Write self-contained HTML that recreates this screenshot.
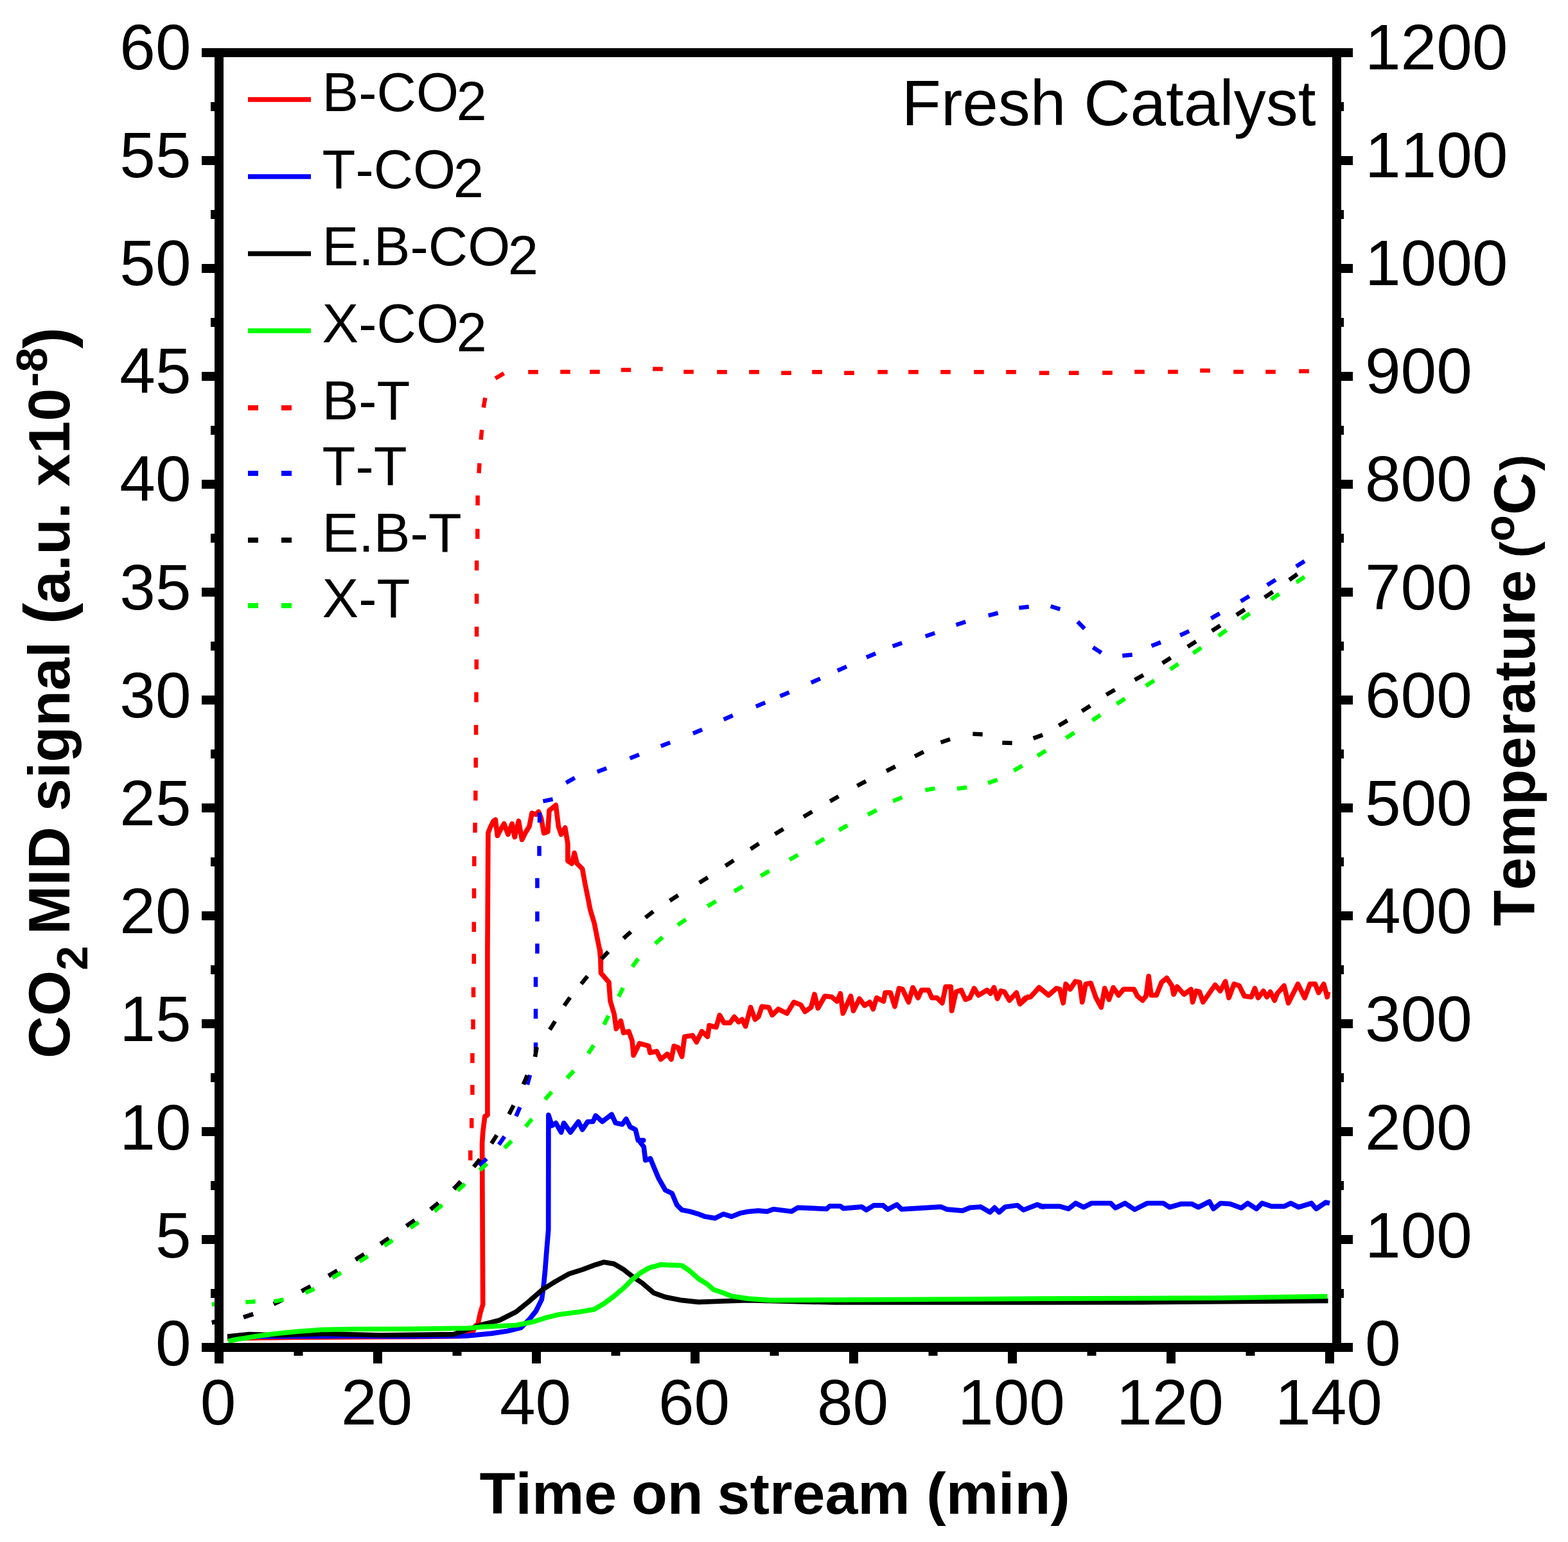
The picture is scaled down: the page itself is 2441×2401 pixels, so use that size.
<!DOCTYPE html>
<html><head><meta charset="utf-8"><title>Fresh Catalyst</title>
<style>text{font-kerning:none}html,body{margin:0;padding:0;background:#fff;width:2441px;height:2401px;overflow:hidden}svg{display:block}</style>
</head><body>
<svg width="2441" height="2401" viewBox="0 0 2441 2401">
<rect width="100%" height="100%" fill="#fff"/>
<g fill="none" stroke-width="7.7" stroke-linejoin="round" stroke-linecap="butt">
<path stroke="#ff0000" d="M354.0 2084.0L392.7 2083.5L458.6 2082.5L550.0 2082.0L650.0 2081.5L720.0 2080.5L736.0 2074.0L740.5 2064.0L743.9 2062.0L747.8 2044.0L751.7 2031.0L750.6 1780.0L751.7 1763.1L754.8 1738.3L758.9 1736.2L758.9 1480.0L759.9 1297.1L763.0 1288.8L768.2 1278.5L771.3 1276.4L774.4 1301.2L778.5 1293.0L784.7 1282.6L790.9 1299.2L797.1 1282.6L801.2 1303.3L807.4 1278.5L812.6 1307.4L817.8 1297.1L824.0 1286.8L828.1 1266.1L834.3 1268.2L838.4 1264.0L842.6 1274.4L846.7 1297.1L852.9 1295.0L855.0 1262.0L865.3 1253.7L869.4 1286.8L873.6 1299.2L879.8 1288.8L883.9 1313.6L883.9 1340.5L890.1 1344.6L894.2 1328.1L898.3 1344.6L906.6 1352.9L910.7 1375.6L914.9 1396.3L919.0 1416.9L925.2 1437.6L929.3 1458.3L933.5 1478.9L935.5 1500.0L934.5 1480.0L935.5 1515.1L947.9 1529.6L950.0 1558.5L956.2 1579.2L959.3 1601.9L966.5 1589.5L970.7 1608.1L978.9 1606.0L984.1 1620.5L986.2 1643.2L995.5 1624.6L1009.9 1628.8L1012.0 1639.1L1022.3 1637.0L1028.5 1649.4L1038.8 1641.2L1045.0 1649.4L1049.2 1628.8L1055.4 1630.8L1061.6 1645.3L1065.7 1614.3L1078.1 1612.2L1084.3 1622.6L1092.6 1606.0L1101.5 1614.2L1104.2 1596.7L1114.9 1599.4L1120.3 1580.6L1127.0 1592.7L1136.4 1592.7L1143.1 1583.3L1149.8 1591.3L1155.2 1587.3L1160.6 1598.0L1168.6 1568.5L1175.4 1587.3L1180.7 1583.3L1186.1 1567.2L1196.8 1568.5L1202.2 1580.6L1211.6 1571.2L1225.0 1577.9L1235.8 1560.4L1246.5 1564.5L1253.2 1575.2L1262.6 1568.5L1268.0 1548.3L1273.4 1569.8L1284.1 1551.0L1294.9 1552.4L1302.9 1559.1L1308.3 1547.0L1312.3 1577.9L1324.4 1551.0L1328.5 1573.9L1337.9 1555.1L1345.9 1565.8L1354.0 1560.4L1359.3 1571.2L1364.7 1553.7L1375.5 1559.1L1378.1 1545.7L1386.2 1545.7L1392.9 1567.2L1399.6 1538.9L1405.0 1540.3L1414.4 1560.4L1421.1 1537.6L1429.2 1553.7L1434.6 1541.6L1445.3 1541.6L1450.7 1553.7L1458.7 1553.7L1466.8 1561.8L1472.2 1536.3L1480.2 1536.3L1481.6 1573.9L1488.3 1544.3L1496.3 1541.6L1503.0 1556.4L1509.8 1553.7L1516.5 1538.9L1523.2 1549.7L1536.6 1541.6L1542.0 1547.0L1547.4 1537.6L1552.7 1555.1L1558.1 1543.0L1563.5 1544.3L1571.5 1557.7L1582.3 1545.7L1587.7 1563.1L1600.0 1552.4L1588.1 1563.1L1596.1 1553.7L1604.2 1552.4L1617.6 1537.6L1632.4 1549.7L1644.5 1538.9L1649.8 1540.3L1655.2 1561.8L1659.2 1532.2L1666.0 1540.3L1674.0 1528.2L1680.7 1529.5L1684.8 1560.4L1690.1 1532.2L1698.2 1530.9L1706.2 1553.7L1714.3 1568.5L1719.7 1538.9L1726.4 1556.4L1733.1 1537.6L1741.2 1549.7L1749.2 1540.3L1765.3 1540.3L1770.7 1551.0L1778.8 1557.7L1784.1 1551.0L1788.2 1520.1L1792.2 1549.7L1800.3 1549.7L1808.3 1529.5L1816.4 1522.8L1824.4 1534.9L1827.1 1548.3L1832.5 1536.3L1843.2 1548.3L1854.0 1540.3L1856.7 1560.4L1862.0 1543.0L1867.4 1544.3L1872.8 1560.4L1891.6 1533.6L1899.6 1543.0L1907.7 1528.2L1913.1 1553.7L1921.1 1532.2L1929.2 1534.9L1937.2 1551.0L1948.0 1552.4L1953.4 1538.9L1958.7 1553.7L1966.8 1543.0L1972.2 1552.4L1977.5 1544.3L1984.2 1557.7L1988.3 1547.0L1999.0 1534.9L2005.7 1561.8L2020.5 1532.2L2031.2 1553.7L2039.3 1532.2L2047.4 1532.2L2052.7 1545.7L2060.8 1532.2L2066.2 1552.4L2067.5 1544.3"/>
<path stroke="#0000ff" d="M354.0 2081.0L365.0 2081.5L411.0 2081.0L547.0 2080.5L615.5 2081.0L706.0 2080.5L725.8 2080.2L764.6 2076.4L790.4 2072.5L811.1 2067.3L824.0 2054.4L834.3 2041.5L843.3 2023.4L845.9 2005.4L848.5 1979.5L851.1 1946.0L853.7 1915.0L853.9 1736.2L859.1 1752.7L865.3 1748.6L873.6 1763.1L877.7 1748.6L888.0 1763.1L900.4 1746.5L906.6 1758.9L914.9 1746.5L923.1 1746.5L927.3 1737.2L937.6 1746.5L952.1 1735.2L958.3 1748.6L968.6 1750.7L974.8 1742.4L981.0 1754.8L989.3 1758.9L993.4 1775.5L1001.7 1775.5L994.4 1775.5L1002.2 1785.8L1004.8 1806.5L1012.5 1803.9L1017.7 1816.8L1025.4 1834.9L1035.7 1853.0L1046.1 1858.1L1053.8 1876.2L1061.6 1884.0L1074.5 1886.5L1087.4 1890.4L1097.7 1894.3L1113.2 1896.9L1126.1 1890.4L1139.0 1894.3L1152.0 1889.1L1164.9 1886.5L1177.8 1885.3L1180.0 1885.1L1194.3 1886.3L1203.8 1882.8L1232.3 1886.3L1241.8 1880.4L1286.9 1882.3L1291.7 1878.0L1308.3 1878.0L1313.0 1881.6L1341.6 1879.2L1348.7 1884.0L1360.6 1876.8L1374.8 1876.8L1381.9 1883.2L1396.2 1875.6L1403.3 1882.8L1465.1 1879.2L1474.6 1883.2L1498.4 1885.1L1510.2 1880.4L1526.9 1879.2L1541.1 1887.5L1548.3 1880.4L1555.4 1887.5L1564.9 1879.2L1583.9 1876.8L1593.4 1884.0L1614.8 1875.6L1624.3 1879.2L1620.0 1878.4L1649.8 1878.4L1663.4 1882.2L1674.5 1873.5L1686.9 1879.7L1699.3 1873.5L1729.1 1873.5L1736.5 1880.9L1751.4 1873.5L1766.3 1883.4L1786.1 1873.5L1810.9 1873.5L1820.8 1879.7L1838.2 1874.7L1855.6 1874.7L1865.5 1879.7L1882.8 1871.0L1889.0 1882.2L1900.2 1873.5L1915.1 1874.7L1932.4 1880.9L1942.3 1873.5L1956.0 1882.2L1964.7 1873.5L1979.5 1878.4L1999.4 1878.4L2009.3 1873.5L2021.7 1879.7L2041.5 1873.5L2049.0 1882.2L2063.8 1872.2L2070.0 1873.5"/>
<path stroke="#000000" d="M354.0 2081.0L388.0 2077.7L433.6 2079.0L502.0 2076.6L592.7 2079.0L706.0 2077.7L725.8 2071.2L751.7 2062.2L777.5 2055.7L803.3 2042.8L824.0 2026.0L844.6 2007.9L865.3 1995.0L886.0 1983.4L906.6 1976.9L927.3 1969.2L940.2 1965.3L955.7 1967.9L971.2 1976.9L984.1 1987.3L999.6 1997.6L1017.7 2013.1L1035.7 2019.6L1061.6 2024.7L1087.4 2027.3L1126.1 2026.0L1164.9 2024.7L1300.0 2028.0L1600.0 2028.0L1800.0 2027.5L2067.5 2025.5"/>
<path stroke="#00ff00" d="M355.2 2088.5L365.5 2086.0L388.0 2082.5L400.0 2080.5L430.0 2076.5L460.0 2073.5L500.0 2070.5L550.0 2069.5L638.0 2069.3L729.0 2068.0L751.7 2066.0L803.3 2063.5L829.1 2058.3L849.8 2051.8L870.5 2046.7L901.4 2042.8L924.7 2038.9L940.2 2029.9L955.7 2018.3L971.2 2005.4L984.1 1992.4L997.0 1982.1L1009.9 1974.4L1028.0 1969.2L1061.6 1970.5L1074.5 1979.5L1087.4 1991.1L1100.3 1998.9L1110.6 2007.9L1126.1 2013.1L1139.0 2018.3L1164.9 2022.1L1200.0 2024.7L1300.0 2024.0L1620.0 2022.2L1900.0 2021.0L2066.3 2018.5"/>
</g>
<g fill="none" stroke-width="6.5" stroke-linecap="butt">
<path stroke="#ff0000" d="M329.9 2059.2L345.1 2056.4M379.2 2051.0L394.0 2046.2M426.1 2030.2L440.1 2023.6M469.6 2010.4L483.4 2003.2M511.6 1986.6L525.0 1978.6M553.6 1961.3L566.8 1953.1M592.5 1936.7L605.3 1928.1M632.8 1908.9L645.6 1900.1M670.4 1883.1L682.4 1873.3M707.5 1851.9L716.5 1839.3M732.3 1806.7L732.3 1791.2M734.2 1756.5L734.2 1741.0M735.4 1704.8L735.4 1689.2M735.4 1655.2L735.4 1639.8M736.5 1602.8L736.5 1587.2M737.0 1552.8L737.0 1537.2M737.8 1500.7L737.8 1485.2M737.8 1451.0L737.8 1435.5M738.0 1398.8L738.0 1383.2M738.3 1348.7L738.3 1333.2M739.5 1296.5L739.5 1281.0M740.3 1246.5L740.3 1231.0M740.7 1195.2L740.7 1179.8M741.1 1144.2L741.1 1128.8M741.5 1093.2L741.5 1077.8M741.8 1042.2L741.8 1026.8M742.1 991.2L742.1 975.8M742.1 940.1L742.1 924.6M742.1 888.2L742.1 872.8M743.3 839.0L743.3 823.5M743.6 787.0L743.6 771.5M745.5 736.7L746.5 721.3M748.6 684.7L750.2 669.3M752.7 634.6L755.3 619.4M771.2 589.3L784.4 581.3M837.8 579.2L822.2 579.2M887.8 579.0L872.2 579.0M933.8 579.0L918.2 579.0M982.2 576.0L966.8 576.0M1031.8 574.5L1016.2 574.5M1079.8 579.0L1064.2 579.0M1131.8 579.3L1116.2 579.3M1181.8 579.3L1166.2 579.3M1231.8 580.8L1216.2 580.8M1279.8 579.3L1264.2 579.3M1329.8 580.8L1314.2 580.8M1381.8 579.3L1366.2 579.3M1429.8 579.3L1414.2 579.3M1479.8 579.3L1464.2 579.3M1531.8 579.3L1516.2 579.3M1581.8 579.3L1566.2 579.3M1633.3 580.8L1617.8 580.8M1679.5 580.8L1664.0 580.8M1731.8 580.5L1716.2 580.5M1781.8 579.0L1766.2 579.0M1833.8 579.0L1818.2 579.0M1883.8 577.0L1868.2 577.0M1935.8 579.0L1920.2 579.0M1985.8 579.0L1970.2 579.0M2037.8 578.0L2022.2 578.0"/>
<path stroke="#0000ff" d="M329.9 2059.2L345.1 2056.4M379.2 2051.0L394.0 2046.2M426.1 2030.2L440.1 2023.6M469.6 2010.4L483.4 2003.2M511.6 1986.6L525.0 1978.6M553.6 1961.3L566.8 1953.1M592.5 1936.7L605.3 1928.1M632.8 1908.9L645.6 1900.1M670.4 1883.1L682.4 1873.3M706.3 1850.8L717.7 1840.4M746.4 1815.3L757.4 1804.3M776.6 1782.4L785.4 1769.6M803.3 1738.1L809.5 1723.9M820.9 1688.9L825.1 1673.9M834.0 1638.8L834.0 1623.2M834.0 1586.2L834.0 1570.8M834.0 1536.8L834.0 1521.2M836.4 1484.8L836.4 1469.2M836.4 1434.8L836.4 1419.2M836.4 1382.8L836.4 1367.2M839.5 1332.8L839.5 1317.2M840.0 1280.8L840.0 1265.2M845.4 1247.6L860.6 1244.4M881.2 1218.8L894.8 1211.2M929.7 1201.7L944.3 1196.3M980.6 1180.7L995.0 1174.9M1028.8 1161.8L1043.2 1156.2M1078.9 1142.1L1093.1 1135.9M1126.6 1120.2L1140.8 1114.0M1176.8 1099.9L1191.2 1094.1M1214.4 1084.1L1228.6 1077.9M1262.7 1063.0L1276.9 1056.6M1303.8 1044.3L1318.0 1037.9M1348.9 1023.6L1363.1 1017.4M1389.6 1006.3L1404.2 1001.1M1440.7 990.7L1455.3 985.7M1488.4 973.0L1503.2 968.2M1538.7 958.3L1553.7 954.5M1586.3 946.4L1601.7 944.8M1635.6 944.0L1650.4 948.6M1677.6 968.0L1688.4 979.0M1701.5 1008.0L1714.5 1016.4M1747.3 1021.0L1762.7 1019.4M1792.6 1005.7L1807.0 1000.1M1837.2 989.2L1851.2 982.6M1885.4 962.8L1898.8 955.2M1931.6 936.2L1944.8 928.2M1972.7 910.9L1985.9 902.7M2017.9 882.1L2030.9 873.7"/>
<path stroke="#000000" d="M329.9 2059.2L345.1 2056.4M379.2 2051.0L394.0 2046.2M426.1 2030.2L440.1 2023.6M469.6 2010.4L483.4 2003.2M511.6 1986.6L525.0 1978.6M553.6 1961.3L566.8 1953.1M592.5 1936.7L605.3 1928.1M632.8 1908.9L645.6 1900.1M670.4 1883.1L682.4 1873.3M706.6 1851.1L717.4 1840.1M737.5 1817.1L747.1 1804.9M765.0 1780.5L773.4 1767.5M792.4 1734.9L799.6 1721.1M814.8 1688.5L820.8 1674.3M833.0 1645.6L835.6 1630.4M855.9 1603.3L864.1 1590.1M878.4 1565.8L887.4 1553.2M904.8 1532.0L914.6 1520.0M936.4 1493.1L947.0 1481.9M970.7 1461.2L982.1 1450.8M1004.8 1428.8L1017.0 1419.2M1042.7 1402.4L1055.7 1394.0M1088.7 1374.4L1101.9 1366.2M1129.3 1348.2L1142.3 1339.6M1168.5 1322.0L1181.5 1313.6M1206.4 1298.8L1219.6 1290.8M1251.0 1271.7L1264.4 1263.7M1292.1 1247.6L1305.5 1240.0M1334.4 1223.6L1348.0 1216.4M1380.0 1200.5L1393.8 1193.5M1424.1 1177.6L1437.9 1170.6M1464.5 1156.0L1479.1 1151.0M1514.3 1142.8L1529.7 1143.4M1560.3 1156.5L1575.7 1157.1M1608.6 1149.6L1623.2 1144.4M1648.3 1129.7L1661.7 1121.9M1684.3 1107.3L1697.3 1098.9M1722.2 1081.8L1735.6 1074.0M1766.6 1058.7L1780.0 1051.1M1809.6 1032.4L1822.6 1024.2M1848.9 1007.1L1861.9 998.7M1886.7 982.3L1899.7 973.9M1924.9 957.5L1937.9 949.1M1968.8 930.1L1981.6 921.5M2007.1 903.0L2019.7 894.0"/>
<path stroke="#00ff00" d="M329.8 2031.0L345.2 2030.0M382.3 2027.4L397.7 2026.6M426.4 2026.4L441.6 2023.6M475.4 2012.9L489.6 2006.7M517.6 1989.6L531.0 1981.6M559.6 1964.3L572.8 1956.1M598.5 1939.7L611.3 1931.1M638.8 1911.9L651.6 1903.1M676.4 1886.1L688.4 1876.3M712.3 1853.8L723.7 1843.4M746.8 1822.2L758.2 1811.8M785.3 1787.4L796.5 1776.6M818.3 1754.2L828.1 1742.2M848.6 1711.9L858.8 1700.1M882.8 1678.7L893.2 1667.3M915.7 1640.5L924.3 1627.5M940.2 1595.4L947.4 1581.6M963.0 1551.9L970.0 1538.1M984.4 1505.2L993.6 1492.8M1020.0 1469.4L1031.6 1459.2M1055.0 1440.4L1067.8 1431.6M1101.3 1411.1L1114.7 1403.3M1143.0 1387.8L1156.4 1380.2M1184.3 1363.8L1197.7 1356.2M1229.0 1338.8L1242.4 1331.0M1269.8 1314.0L1283.2 1306.0M1305.9 1292.7L1319.5 1285.1M1351.0 1268.5L1364.8 1261.3M1390.1 1247.4L1404.5 1241.6M1440.4 1230.2L1455.6 1227.6M1489.9 1228.0L1505.3 1226.0M1538.1 1219.3L1552.7 1214.1M1578.2 1199.9L1591.6 1192.1M1615.0 1176.9L1628.2 1168.7M1659.5 1149.2L1672.5 1140.8M1700.4 1121.8L1713.2 1113.2M1738.5 1096.1L1751.5 1087.7M1783.8 1068.0L1796.8 1059.6M1821.7 1042.4L1834.5 1033.6M1857.4 1017.2L1870.2 1008.4M1896.8 990.2L1909.4 981.2M1932.9 963.9L1945.7 955.1M1978.7 933.4L1991.5 924.8M2018.0 906.9L2030.8 898.3"/>
</g>
<g fill="#000">
<rect x="314" y="75" width="1792" height="14"/>
<rect x="314" y="2091" width="1792" height="14"/>
<rect x="334" y="75" width="14" height="2048"/>
<rect x="2074" y="75" width="14" height="2030"/>
<rect x="314" y="2091.0" width="20" height="14"/>
<rect x="2088" y="2091.0" width="18" height="14"/>
<rect x="328" y="2007.0" width="6" height="14"/>
<rect x="2088" y="2007.0" width="4" height="14"/>
<rect x="314" y="1923.0" width="20" height="14"/>
<rect x="2088" y="1923.0" width="18" height="14"/>
<rect x="328" y="1839.0" width="6" height="14"/>
<rect x="2088" y="1839.0" width="4" height="14"/>
<rect x="314" y="1755.0" width="20" height="14"/>
<rect x="2088" y="1755.0" width="18" height="14"/>
<rect x="328" y="1671.0" width="6" height="14"/>
<rect x="2088" y="1671.0" width="4" height="14"/>
<rect x="314" y="1587.0" width="20" height="14"/>
<rect x="2088" y="1587.0" width="18" height="14"/>
<rect x="328" y="1503.0" width="6" height="14"/>
<rect x="2088" y="1503.0" width="4" height="14"/>
<rect x="314" y="1419.0" width="20" height="14"/>
<rect x="2088" y="1419.0" width="18" height="14"/>
<rect x="328" y="1335.0" width="6" height="14"/>
<rect x="2088" y="1335.0" width="4" height="14"/>
<rect x="314" y="1251.0" width="20" height="14"/>
<rect x="2088" y="1251.0" width="18" height="14"/>
<rect x="328" y="1167.0" width="6" height="14"/>
<rect x="2088" y="1167.0" width="4" height="14"/>
<rect x="314" y="1083.0" width="20" height="14"/>
<rect x="2088" y="1083.0" width="18" height="14"/>
<rect x="328" y="999.0" width="6" height="14"/>
<rect x="2088" y="999.0" width="4" height="14"/>
<rect x="314" y="915.0" width="20" height="14"/>
<rect x="2088" y="915.0" width="18" height="14"/>
<rect x="328" y="831.0" width="6" height="14"/>
<rect x="2088" y="831.0" width="4" height="14"/>
<rect x="314" y="747.0" width="20" height="14"/>
<rect x="2088" y="747.0" width="18" height="14"/>
<rect x="328" y="663.0" width="6" height="14"/>
<rect x="2088" y="663.0" width="4" height="14"/>
<rect x="314" y="579.0" width="20" height="14"/>
<rect x="2088" y="579.0" width="18" height="14"/>
<rect x="328" y="495.0" width="6" height="14"/>
<rect x="2088" y="495.0" width="4" height="14"/>
<rect x="314" y="411.0" width="20" height="14"/>
<rect x="2088" y="411.0" width="18" height="14"/>
<rect x="328" y="327.0" width="6" height="14"/>
<rect x="2088" y="327.0" width="4" height="14"/>
<rect x="314" y="243.0" width="20" height="14"/>
<rect x="2088" y="243.0" width="18" height="14"/>
<rect x="328" y="159.0" width="6" height="14"/>
<rect x="2088" y="159.0" width="4" height="14"/>
<rect x="314" y="75.0" width="20" height="14"/>
<rect x="2088" y="75.0" width="18" height="14"/>
<rect x="334.0" y="2105" width="14" height="18"/>
<rect x="457.5" y="2105" width="14" height="6"/>
<rect x="581.0" y="2105" width="14" height="18"/>
<rect x="704.5" y="2105" width="14" height="6"/>
<rect x="828.0" y="2105" width="14" height="18"/>
<rect x="951.5" y="2105" width="14" height="6"/>
<rect x="1075.0" y="2105" width="14" height="18"/>
<rect x="1198.5" y="2105" width="14" height="6"/>
<rect x="1322.0" y="2105" width="14" height="18"/>
<rect x="1445.5" y="2105" width="14" height="6"/>
<rect x="1569.0" y="2105" width="14" height="18"/>
<rect x="1692.5" y="2105" width="14" height="6"/>
<rect x="1816.0" y="2105" width="14" height="18"/>
<rect x="1939.5" y="2105" width="14" height="6"/>
<rect x="2063.0" y="2105" width="14" height="18"/>
</g>
<g font-family="Liberation Sans, Arial, sans-serif" font-size="100" fill="#000">
<text x="297.5" y="2126.0" text-anchor="end">0</text>
<text x="2125" y="2126.0">0</text>
<text x="297.5" y="1957.8" text-anchor="end">5</text>
<text x="2125" y="1957.8">100</text>
<text x="297.5" y="1789.6" text-anchor="end">10</text>
<text x="2125" y="1789.6">200</text>
<text x="297.5" y="1621.4" text-anchor="end">15</text>
<text x="2125" y="1621.4">300</text>
<text x="297.5" y="1453.2" text-anchor="end">20</text>
<text x="2125" y="1453.2">400</text>
<text x="297.5" y="1285.0" text-anchor="end">25</text>
<text x="2125" y="1285.0">500</text>
<text x="297.5" y="1116.8" text-anchor="end">30</text>
<text x="2125" y="1116.8">600</text>
<text x="297.5" y="948.6" text-anchor="end">35</text>
<text x="2125" y="948.6">700</text>
<text x="297.5" y="780.4" text-anchor="end">40</text>
<text x="2125" y="780.4">800</text>
<text x="297.5" y="612.2" text-anchor="end">45</text>
<text x="2125" y="612.2">900</text>
<text x="297.5" y="444.0" text-anchor="end">50</text>
<text x="2125" y="444.0">1000</text>
<text x="297.5" y="275.8" text-anchor="end">55</text>
<text x="2125" y="275.8">1100</text>
<text x="297.5" y="107.6" text-anchor="end">60</text>
<text x="2125" y="107.6">1200</text>
<text x="339.5" y="2218" text-anchor="middle">0</text>
<text x="586.5" y="2218" text-anchor="middle">20</text>
<text x="833.5" y="2218" text-anchor="middle">40</text>
<text x="1080.5" y="2218" text-anchor="middle">60</text>
<text x="1327.5" y="2218" text-anchor="middle">80</text>
<text x="1574.5" y="2218" text-anchor="middle">100</text>
<text x="1821.5" y="2218" text-anchor="middle">120</text>
<text x="2068.5" y="2218" text-anchor="middle">140</text>
<text x="2048.5" y="195" text-anchor="end">Fresh Catalyst</text>
</g>
<g font-family="Liberation Sans, Arial, sans-serif" font-size="85" fill="#000">
<text x="501.5" y="173">B-CO<tspan dx="-3.5" dy="14">2</tspan></text>
<rect x="386" y="151.25" width="98" height="7.5" fill="#ff0000"/>
<text x="501.5" y="293">T-CO<tspan dx="-3.5" dy="14">2</tspan></text>
<rect x="386" y="271.25" width="98" height="7.5" fill="#0000ff"/>
<text x="501.5" y="413">E.B-CO<tspan dx="-3.5" dy="14">2</tspan></text>
<rect x="386" y="391.25" width="98" height="7.5" fill="#000000"/>
<text x="501.5" y="533">X-CO<tspan dx="-3.5" dy="14">2</tspan></text>
<rect x="386" y="511.25" width="98" height="7.5" fill="#00ff00"/>
<text x="501.5" y="653">B-T</text>
<rect x="386" y="631" width="16" height="8" fill="#ff0000"/>
<rect x="438" y="631" width="16" height="8" fill="#ff0000"/>
<text x="501.5" y="755">T-T</text>
<rect x="386" y="733" width="16" height="8" fill="#0000ff"/>
<rect x="438" y="733" width="16" height="8" fill="#0000ff"/>
<text x="501.5" y="859">E.B-T</text>
<rect x="386" y="837" width="16" height="8" fill="#000000"/>
<rect x="438" y="837" width="16" height="8" fill="#000000"/>
<text x="501.5" y="961">X-T</text>
<rect x="386" y="939" width="16" height="8" fill="#00ff00"/>
<rect x="438" y="939" width="16" height="8" fill="#00ff00"/>
</g>
<g font-family="Liberation Sans, Arial, sans-serif" font-weight="bold" fill="#000">
<text x="746.6" y="2357.3" font-size="91.5">Time</text>
<text x="982.9" y="2357.3" font-size="91.5">on</text>
<text x="1116.6" y="2357.3" font-size="91.5">stream</text>
<text x="1442.2" y="2357.3" font-size="91.5">(min)</text>
<text transform="translate(107.8 1648.0) rotate(-90)" font-size="91.5">CO</text>
<text transform="translate(136 1510.9) rotate(-90)" font-size="69">2</text>
<text transform="translate(107.8 1455.0) rotate(-90)" font-size="91.5">MID</text>
<text transform="translate(107.8 1263.2) rotate(-90)" font-size="91.5">signal</text>
<text transform="translate(107.8 971.9) rotate(-90)" font-size="100">(</text>
<text transform="translate(107.8 940.0) rotate(-90)" font-size="91.5">a.u.</text>
<text transform="translate(107.8 757.5) rotate(-90)" font-size="91.5">x10</text>
<text transform="translate(72.5 602.5) rotate(-90)" font-size="69">-8</text>
<text transform="translate(107.8 542.7) rotate(-90)" font-size="100">)</text>
<text transform="translate(2388.5 1442.0) rotate(-90)" font-size="91.5">Temperature</text>
<text transform="translate(2388.5 868.5) rotate(-90)" font-size="76">(</text>
<text transform="translate(2357 842.9) rotate(-90)" font-size="67">o</text>
<text transform="translate(2388.5 801.8) rotate(-90)" font-size="91.5">C</text>
<text transform="translate(2388.5 733.1) rotate(-90)" font-size="76">)</text>
</g>
</svg>
</body></html>
